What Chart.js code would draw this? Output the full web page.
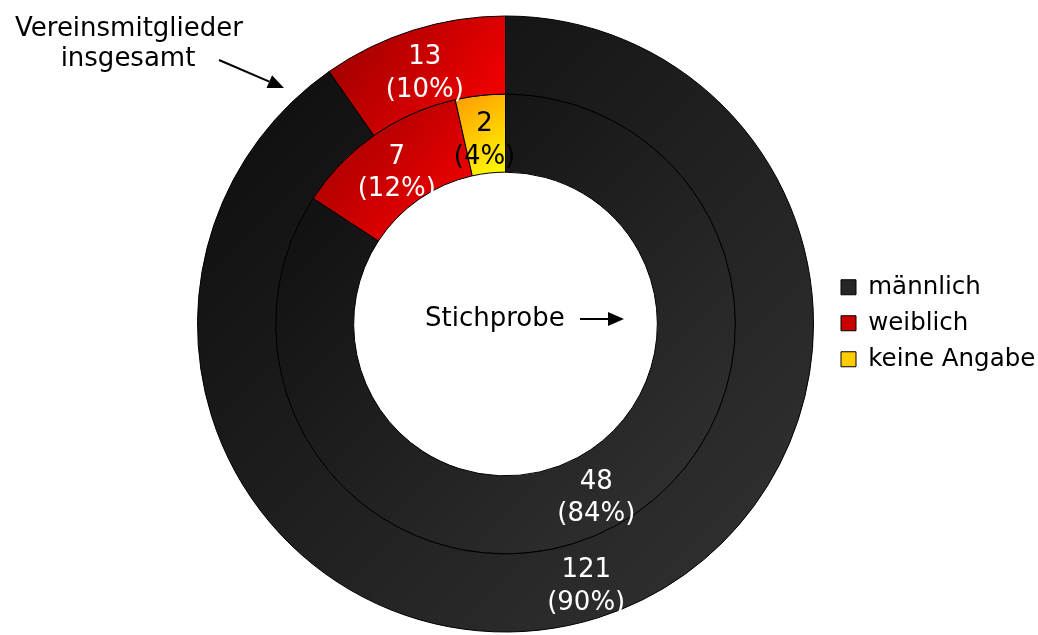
<!DOCTYPE html>
<html>
<head>
<meta charset="utf-8">
<script src="https://cdn.jsdelivr.net/npm/chart.js@4"></script>
<style>
  body { margin: 0; background: #fff; }
</style>
</head>
<body>
<canvas id="myChart" width="1038" height="635"></canvas>
<script>
var categories = ['männlich', 'weiblich', 'keine Angabe'];
var gesamt = [121, 13, 0];      // Vereinsmitglieder insgesamt (outer ring)
var stichprobe = [48, 7, 2];    // Stichprobe (inner ring)

var colorsFrom = ['#0b0b0b', '#960000', '#ff9900'];
var colorsTo = ['#343434', '#ff0000', '#ffff00'];
var legendColors = ['#262626', '#cc0000', '#ffcc00'];
var labelColors = ['#fff', '#fff', '#000'];
var FONT = 'DejaVu Sans';

// put the ring and the legend where the original has them
var placement = {
    id: 'placement',
    afterLayout: function(chart){
        chart.chartArea = {left: 197, top: 15.5, right: 814, bottom: 632.5, width: 617, height: 617};
        var lg = chart.legend;
        lg.left = 829.5; lg.right = 1038; lg.width = 208.5;
        lg.top = 263.5; lg.bottom = 420; lg.height = 156.5;
    }
};

// diagonal gradient per slice, like the office chart
var gradients = {
    id: 'gradients',
    beforeDatasetsDraw: function(chart){
        var c = chart.ctx;
        chart.data.datasets.forEach(function(ds, di){
            chart.getDatasetMeta(di).data.forEach(function(arc, i){
                var p = arc.getProps(['x', 'y', 'startAngle', 'endAngle', 'innerRadius', 'outerRadius']);
                var minX = Infinity, minY = Infinity, maxX = -Infinity, maxY = -Infinity;
                for (var k = 0; k <= 60; k++) {
                    var a = p.startAngle + (p.endAngle - p.startAngle) * k / 60;
                    [p.innerRadius, p.outerRadius].forEach(function(r){
                        var x = p.x + r * Math.cos(a), y = p.y + r * Math.sin(a);
                        minX = Math.min(minX, x); maxX = Math.max(maxX, x);
                        minY = Math.min(minY, y); maxY = Math.max(maxY, y);
                    });
                }
                var g = c.createLinearGradient(minX, minY, maxX, maxY);
                g.addColorStop(0, colorsFrom[i]);
                g.addColorStop(1, colorsTo[i]);
                arc.options.backgroundColor = g;
            });
        });
    }
};

// value + percent in every slice
var sliceLabels = {
    id: 'sliceLabels',
    afterDatasetsDraw: function(chart){
        var c = chart.ctx;
        c.save();
        c.font = '26px "' + FONT + '"';
        c.textAlign = 'center';
        c.textBaseline = 'middle';
        chart.data.datasets.forEach(function(ds, di){
            var total = ds.data.reduce(function(s, v){ return s + v; }, 0);
            chart.getDatasetMeta(di).data.forEach(function(arc, i){
                var v = ds.data[i];
                if (!v) return;
                var pos = arc.tooltipPosition();
                c.fillStyle = labelColors[i];
                c.fillText(String(v), pos.x, pos.y - 10);
                c.fillText('(' + Math.round(v / total * 100) + '%)', pos.x, pos.y + 22.5);
            });
        });
        c.restore();
    }
};

// the two arrow notes
function arrow(c, x1, y1, x2, y2){
    var ang = Math.atan2(y2 - y1, x2 - x1), len = 16, w = 7;
    var bx = x2 - len * Math.cos(ang), by = y2 - len * Math.sin(ang);
    c.beginPath();
    c.moveTo(x1, y1);
    c.lineTo(bx, by);
    c.stroke();
    c.beginPath();
    c.moveTo(x2, y2);
    c.lineTo(bx + w * Math.sin(ang), by - w * Math.cos(ang));
    c.lineTo(bx - w * Math.sin(ang), by + w * Math.cos(ang));
    c.closePath();
    c.fill();
}

var notes = {
    id: 'notes',
    afterDraw: function(chart){
        var c = chart.ctx;
        c.save();
        c.font = '26px "' + FONT + '"';
        c.fillStyle = '#000';
        c.strokeStyle = '#000';
        c.lineWidth = 2;
        c.textBaseline = 'alphabetic';
        c.textAlign = 'center';
        c.fillText('Vereinsmitglieder', 129, 36);
        c.fillText('insgesamt', 128, 66);
        arrow(c, 219, 60, 284, 88);
        c.textAlign = 'left';
        c.fillText('Stichprobe', 425, 326);
        arrow(c, 580, 319, 624, 319);
        c.restore();
    }
};

var ctx = document.getElementById('myChart');

var data = {
    labels: categories,
    datasets: [{
        label: 'Vereinsmitglieder insgesamt',
        data: gesamt,
        backgroundColor: legendColors,
        borderColor: '#000',
        borderWidth: 1
    }, {
        label: 'Stichprobe',
        data: stichprobe,
        backgroundColor: legendColors,
        borderColor: '#000',
        borderWidth: 1
    }]
};

var myDoughnutChart = new Chart(ctx, {
    type: 'doughnut',
    data: data,
    options: {
        responsive: false,
        animation: false,
        events: [],
        cutout: '49.3%',
        plugins: {
            legend: {
                position: 'right',
                align: 'start',
                labels: {
                    color: '#000',
                    font: { family: FONT, size: 24.5 },
                    boxWidth: 15,
                    boxHeight: 15,
                    padding: 11.5
                }
            },
            tooltip: { enabled: false }
        }
    },
    plugins: [placement, gradients, sliceLabels, notes]
});
</script>
</body>
</html>
